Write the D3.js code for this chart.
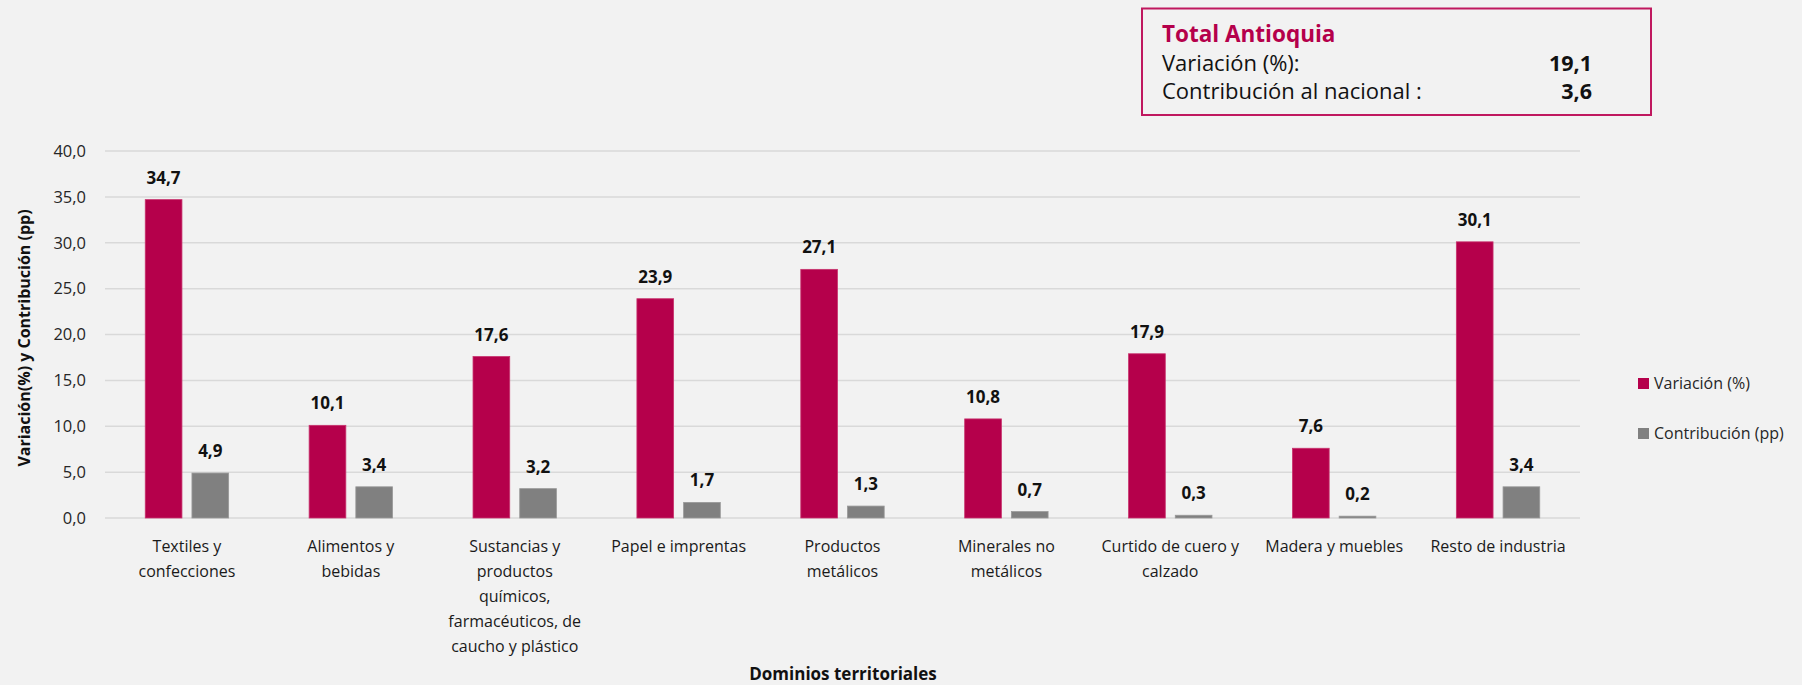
<!DOCTYPE html>
<html>
<head>
<meta charset="utf-8">
<script src="https://cdn.jsdelivr.net/npm/d3@7"></script>
<style>
  html, body { margin: 0; padding: 0; background: #F2F2F2; }
  svg { display: block; font-family: "Open Sans", "Noto Sans", sans-serif; }
</style>
</head>
<body>
<svg id="chart" width="1802" height="685"></svg>
<script>
// ---------- data ----------
const categories = [
  "Textiles y\nconfecciones",
  "Alimentos y\nbebidas",
  "Sustancias y\nproductos\nquímicos,\nfarmacéuticos, de\ncaucho y plástico",
  "Papel e imprentas",
  "Productos\nmetálicos",
  "Minerales no\nmetálicos",
  "Curtido de cuero y\ncalzado",
  "Madera y muebles",
  "Resto de industria"
];
const variacion    = [34.7, 10.1, 17.6, 23.9, 27.1, 10.8, 17.9, 7.6, 30.1];
const contribucion = [4.9, 3.4, 3.2, 1.7, 1.3, 0.7, 0.3, 0.2, 3.4];
const seriesNames  = ["Variación (%)", "Contribución (pp)"];
const yTicks       = [0, 5, 10, 15, 20, 25, 30, 35, 40];
const boxTitle     = "Total Antioquia";
const boxLabels    = ["Variación (%):", "Contribución al nacional :"];
const boxValues    = [19.1, 3.6];
const yAxisTitle   = "Variación(%) y Contribución (pp)";
const xAxisTitle   = "Dominios territoriales";

// ---------- setup ----------
const colors = ["#B5004B", "#808080"];
const locale = d3.formatLocale({decimal: ",", thousands: ".", grouping: [3], currency: ["$", ""]});
const fmt = locale.format(".1f");

const svg = d3.select("#chart");
const plot = {left: 105, right: 1580, top: 151, bottom: 518};

const x = d3.scaleBand().domain(d3.range(categories.length))
  .range([plot.left, plot.right]).paddingInner(0).paddingOuter(0);
const barW = 36.7, gap = 10;
const groupW = barW * 2 + gap;
const y = d3.scaleLinear().domain([0, 40]).range([plot.bottom, plot.top]);

// gridlines
svg.append("g").selectAll("line").data(yTicks).join("line")
  .attr("x1", plot.left).attr("x2", plot.right)
  .attr("y1", d => y(d)).attr("y2", d => y(d))
  .attr("stroke", "#D9D9D9").attr("stroke-width", 1.5);

// y axis labels
const yAxis = d3.axisLeft(y).tickValues(yTicks).tickFormat(fmt).tickSize(0).tickPadding(0);
const ga = svg.append("g").attr("transform", `translate(86,0)`).call(yAxis);
ga.select(".domain").remove();
ga.selectAll("text").attr("font-size", 16.5).attr("fill", "#262626")
  .attr("font-family", "'Open Sans', 'Noto Sans', sans-serif");

// bars
const series = [variacion, contribucion];
series.forEach((vals, si) => {
  const g = svg.append("g");
  g.selectAll("rect").data(vals).join("rect")
    .attr("x", (d, i) => x(i) + (x.bandwidth() - groupW) / 2 + si * (barW + gap))
    .attr("width", barW)
    .attr("y", d => y(d))
    .attr("height", d => y(0) - y(d))
    .attr("fill", colors[si])
    .attr("stroke", si === 0 ? "#C8336E" : "#999999")
    .attr("stroke-width", 0.8);
  g.selectAll("text").data(vals).join("text")
    .attr("x", (d, i) => x(i) + (x.bandwidth() - groupW) / 2 + si * (barW + gap) + barW / 2)
    .attr("y", d => y(d) - 16)
    .attr("text-anchor", "middle")
    .attr("font-size", 17).attr("font-weight", "bold").attr("fill", "#111")
    .text(d => fmt(d));
});

// category labels
const cg = svg.append("g");
categories.forEach((c, i) => {
  const t = cg.append("text")
    .attr("text-anchor", "middle")
    .attr("font-size", 16).attr("fill", "#1a1a1a");
  c.split("\n").forEach((line, li) => {
    t.append("tspan")
      .attr("x", x(i) + x.bandwidth() / 2)
      .attr("y", 552 + li * 25)
      .text(line);
  });
});

// axis titles
svg.append("text")
  .attr("transform", "translate(30,338) rotate(-90)")
  .attr("text-anchor", "middle")
  .attr("font-size", 16).attr("font-weight", "bold").attr("fill", "#111")
  .text(yAxisTitle);

svg.append("text")
  .attr("x", 843).attr("y", 680)
  .attr("text-anchor", "middle")
  .attr("font-size", 17).attr("font-weight", "bold").attr("fill", "#111")
  .text(xAxisTitle);

// legend
const lg = svg.append("g");
seriesNames.forEach((n, i) => {
  lg.append("rect").attr("x", 1638).attr("y", 378 + i * 50)
    .attr("width", 11).attr("height", 11).attr("fill", colors[i]);
  lg.append("text").attr("x", 1654).attr("y", 389 + i * 50)
    .attr("font-size", 16).attr("fill", "#262626").text(n);
});

// summary box
const bx = svg.append("g");
bx.append("rect").attr("x", 1142).attr("y", 8.5).attr("width", 509).attr("height", 106.5)
  .attr("fill", "none").attr("stroke", "#C0185F").attr("stroke-width", 2);
bx.append("text").attr("x", 1162).attr("y", 42)
  .attr("font-size", 22.5).attr("font-weight", "bold").attr("fill", "#B5004B")
  .text(boxTitle);
boxLabels.forEach((l, i) => {
  bx.append("text").attr("x", 1162).attr("y", 71 + i * 28)
    .attr("font-size", 22).attr("fill", "#111").text(l);
  bx.append("text").attr("x", 1592).attr("y", 71 + i * 28)
    .attr("text-anchor", "end")
    .attr("font-size", 21.5).attr("font-weight", "bold").attr("fill", "#111")
    .text(fmt(boxValues[i]));
});
</script>
</body>
</html>
